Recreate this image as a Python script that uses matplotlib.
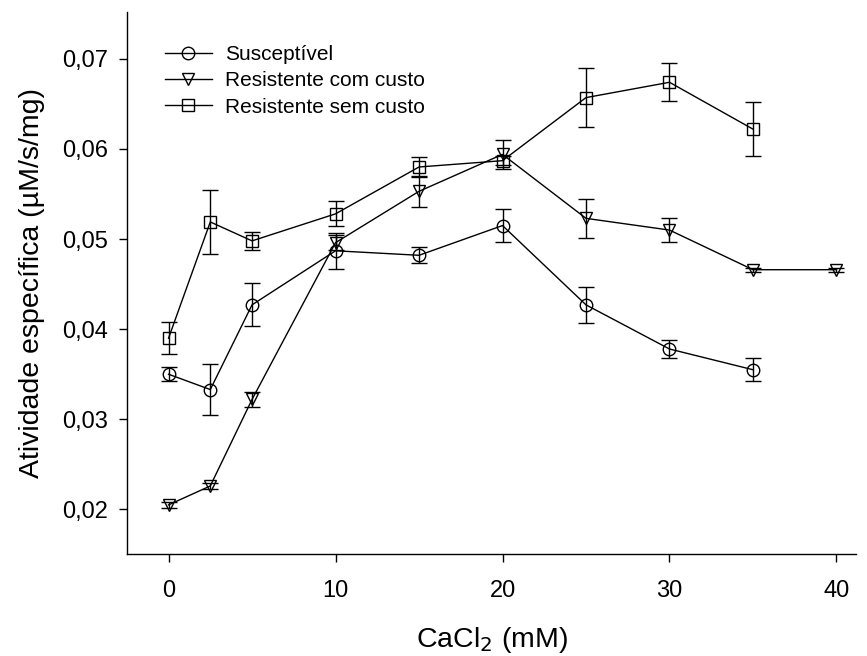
import matplotlib.pyplot as plt
from matplotlib.ticker import FixedLocator

plt.rcParams['font.family'] = ['Liberation Sans', 'DejaVu Sans']

# CaCl2 concentration (mM)
cacl2 = [0, 2.5, 5, 10, 15, 20, 25, 30, 35, 40]

susc = [0.0350, 0.0333, 0.0427, 0.0487, 0.0482, 0.0515, 0.0427, 0.0378, 0.0355]
susc_err = [0.0008, 0.0028, 0.0024, 0.0020, 0.0009, 0.0018, 0.0020, 0.0010, 0.0013]

res_custo = [0.0205, 0.0226, 0.0322, 0.0496, 0.0553, 0.0594, 0.0523, 0.0510, 0.0466, 0.0466]
res_custo_err = [0.0003, 0.0003, 0.0008, 0.0008, 0.0017, 0.0016, 0.0022, 0.0013, 0.0002, 0.0002]

res_sem = [0.0390, 0.0519, 0.0498, 0.0528, 0.0580, 0.0587, 0.0657, 0.0674, 0.0622]
res_sem_err = [0.0018, 0.0036, 0.0010, 0.0014, 0.0011, 0.0005, 0.0033, 0.0021, 0.0030]

series = [
    ('Susceptível', susc, susc_err, 'o', 9),
    ('Resistente com custo', res_custo, res_custo_err, 'v', 9),
    ('Resistente sem custo', res_sem, res_sem_err, 's', 8),
]

yticks = [0.02, 0.03, 0.04, 0.05, 0.06, 0.07]
ytick_labels = ['0,02', '0,03', '0,04', '0,05', '0,06', '0,07']
xticks = [0, 10, 20, 30, 40]

W, H = 867, 656
ax_l, ax_r, ax_t, ax_b = 127.3, 856, 12, 554

fig = plt.figure(figsize=(W / 100, H / 100), dpi=100)
ax = fig.add_axes([ax_l / W, 1 - ax_b / H, (ax_r - ax_l) / W, (ax_b - ax_t) / H])

for label, vals, errs, mk, ms in series:
    xs = cacl2[:len(vals)]
    ax.errorbar(xs, vals, yerr=errs, fmt='none', ecolor='black',
                elinewidth=1.0, capsize=6, capthick=1.0)
    ax.plot(xs, vals, color='black', lw=1.0, marker=mk, ms=ms,
            mfc='none', mec='black', mew=1.0, label=label)

ax.set_xlim(-2.47, 41.17)
ax.set_ylim(0.01505, 0.0752)
ax.xaxis.set_major_locator(FixedLocator(xticks))
ax.set_xticklabels([str(t) for t in xticks])
ax.yaxis.set_major_locator(FixedLocator(yticks))
ax.set_yticklabels(ytick_labels)
ax.tick_params(direction='out', length=6, width=1.0, labelsize=17)
ax.tick_params(axis='x', pad=13)
ax.tick_params(axis='y', pad=8)

for s in ['top', 'right']:
    ax.spines[s].set_visible(False)
for s in ['left', 'bottom']:
    ax.spines[s].set_linewidth(1.0)

ax.set_xlabel('CaCl$_2$ (mM)', fontsize=20.5)
ax.xaxis.set_label_coords(0.5, (ax_b - 625) / (ax_b - ax_t))
ax.set_ylabel('Atividade específica (µM/s/mg)', fontsize=20.5)
ax.yaxis.set_label_coords((45 - ax_l) / (ax_r - ax_l), 0.5)

ax.legend(loc='upper left', bbox_to_anchor=(165 / W, 1 - 45 / H),
          bbox_transform=fig.transFigure, frameon=False, fontsize=15,
          handlelength=2.25, handletextpad=0.62, labelspacing=0.35,
          borderpad=0, borderaxespad=0)

plt.savefig('out.png', dpi=100)
